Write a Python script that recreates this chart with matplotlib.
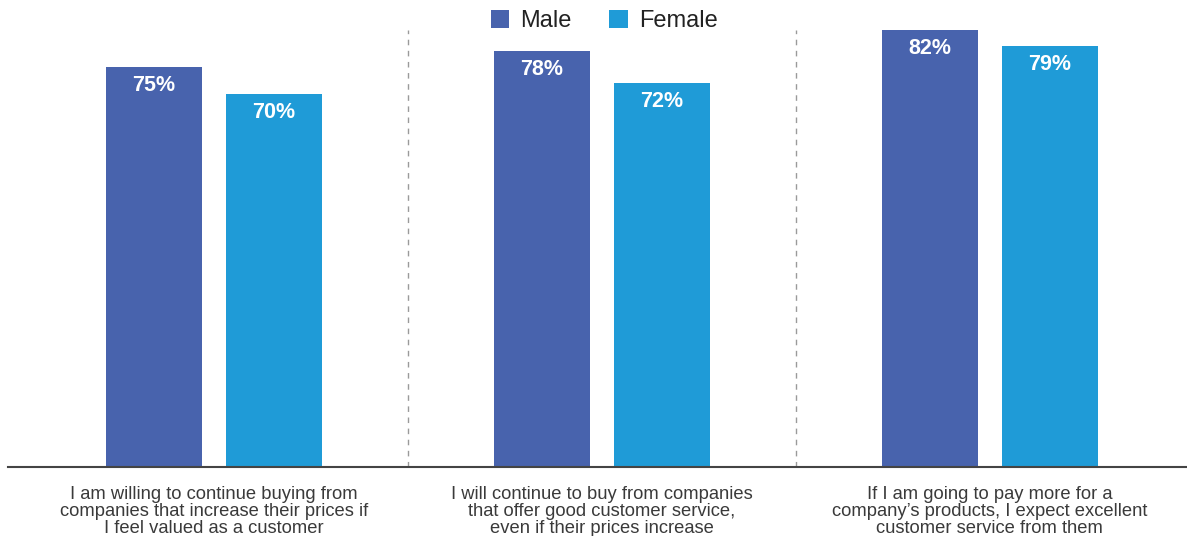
import matplotlib
matplotlib.use("Agg")
import matplotlib.pyplot as plt
from matplotlib.patches import Patch
import numpy as np

categories = [
    "I am willing to continue buying from\ncompanies that increase their prices if\nI feel valued as a customer",
    "I will continue to buy from companies\nthat offer good customer service,\neven if their prices increase",
    "If I am going to pay more for a\ncompany\u2019s products, I expect excellent\ncustomer service from them",
]
series_names = ["Male", "Female"]
male = [75, 78, 82]
female = [70, 72, 79]

colors = {"Male": "#4863AD", "Female": "#1F9BD7"}

plt.rcParams["font.family"] = ["Liberation Sans", "DejaVu Sans"]

fig = plt.figure(figsize=(11.87, 5.36), dpi=100)
ax = fig.add_axes([8 / 1187, 69 / 536, 1 - 8 / 1187, 467 / 536])

x = np.arange(len(categories))
width = 0.247
offset = 0.155

for vals, name, sign in [(male, "Male", -1), (female, "Female", 1)]:
    bars = ax.bar(x + sign * offset, vals, width, color=colors[name], label=name)
    for b, v in zip(bars, vals):
        ax.text(b.get_x() + b.get_width() / 2, v - 3.5, f"{v}%",
                ha="center", va="center", color="white",
                fontsize=15.5, fontweight="bold")

# dashed separators between groups
for sep in (x[:-1] + 0.5):
    ax.axvline(sep, ymin=0, ymax=437 / 467, color="#9a9a9a",
               linestyle=(0, (4, 4)), linewidth=1.0)

ax.set_xlim(-0.531, 2.508)
ax.set_ylim(0, 467 / 5.33)

for s in ("top", "right", "left"):
    ax.spines[s].set_visible(False)
ax.spines["bottom"].set_color("#444444")
ax.spines["bottom"].set_linewidth(1.5)
ax.set_yticks([])
ax.set_xticks(x)
ax.set_xticklabels(categories, fontsize=13.2, color="#3a3a3a", linespacing=1.0)
ax.tick_params(axis="x", length=0, pad=14)

handles = [Patch(facecolor=colors[n], edgecolor="none") for n in series_names]
fig.legend(handles, series_names, loc="center", bbox_to_anchor=(604 / 1187, 1 - 21 / 536),
           ncol=2, frameon=False, fontsize=17, handlelength=0.8, handleheight=0.8,
           handletextpad=0.45, columnspacing=1.6, labelcolor="#222222")

fig.savefig("out.png", dpi=100)
